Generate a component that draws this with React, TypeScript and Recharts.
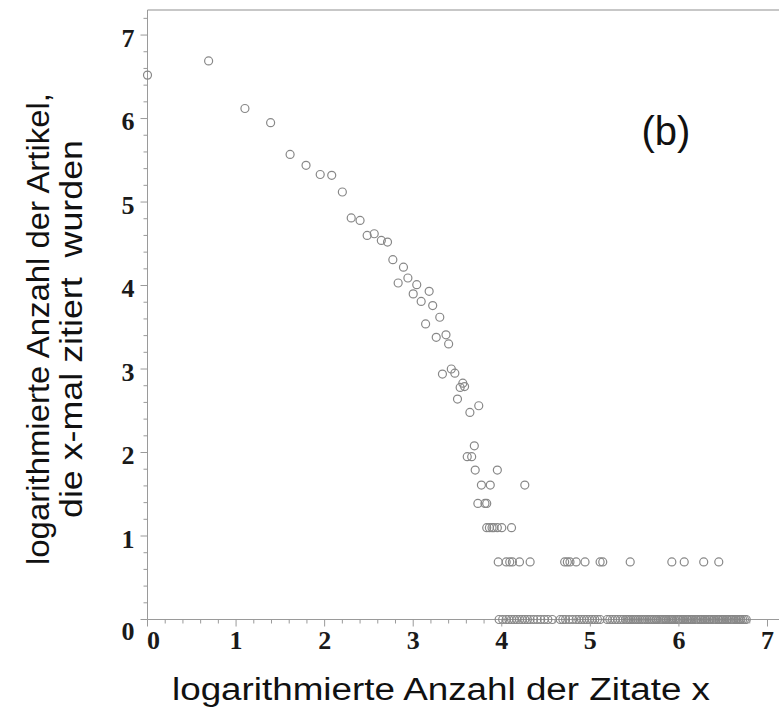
import React from 'react';
import { ScatterChart, Scatter, XAxis, YAxis, ReferenceLine, Customized } from 'recharts';

// Upper curve: log(x) vs log(number of articles)
const curveX = [0, 0.69, 1.1, 1.39, 1.61, 1.79, 1.95, 2.08, 2.2, 2.3, 2.4, 2.48, 2.56, 2.64, 2.71, 2.77, 2.83, 2.89, 2.94, 3.0, 3.04, 3.09, 3.14, 3.18, 3.22, 3.26, 3.3, 3.33, 3.37, 3.4, 3.43, 3.47, 3.5, 3.53, 3.56, 3.58, 3.61, 3.64, 3.66, 3.69, 3.74];
const curveY = [6.52, 6.69, 6.12, 5.95, 5.57, 5.44, 5.33, 5.32, 5.12, 4.81, 4.78, 4.6, 4.62, 4.54, 4.52, 4.31, 4.03, 4.22, 4.09, 3.9, 4.01, 3.81, 3.54, 3.93, 3.76, 3.38, 3.62, 2.94, 3.41, 3.3, 3.0, 2.95, 2.64, 2.78, 2.83, 2.79, 1.95, 2.48, 1.95, 2.08, 2.56];

// Discrete levels (few articles)
const level179X = [3.7, 3.95];
const level161X = [3.77, 3.87, 4.26];
const level139X = [3.73, 3.81, 3.83];
const level110X = [3.83, 3.86, 3.89, 3.91, 3.95, 4.0, 4.11];
const level069X = [3.96, 4.05, 4.09, 4.12, 4.2, 4.32, 4.71, 4.74, 4.77, 4.84, 4.94, 5.11, 5.14, 5.45, 5.92, 6.06, 6.28, 6.45];
const level000X = [
  3.97, 4.01, 4.05, 4.08, 4.11, 4.14, 4.17, 4.2, 4.23, 4.26, 4.29, 4.32, 4.36, 4.4, 4.44, 4.48, 4.52, 4.57,
  4.66, 4.69, 4.72, 4.76, 4.8,
  4.84, 4.87, 4.9, 4.93, 4.96, 4.99, 5.02, 5.05, 5.08, 5.11,
  5.19, 5.22, 5.25, 5.28, 5.31, 5.34, 5.37, 5.4, 5.42, 5.44, 5.46, 5.48, 5.5, 5.52, 5.54, 5.56, 5.58, 5.6, 5.62,
  5.64, 5.66, 5.68, 5.7, 5.72, 5.74, 5.75, 5.77, 5.79, 5.81, 5.83, 5.85, 5.86, 5.88, 5.9, 5.92, 5.93, 5.95, 5.97,
  5.99, 6.0, 6.02, 6.04, 6.05, 6.07, 6.09, 6.1, 6.12, 6.14, 6.15, 6.17, 6.19, 6.2, 6.22, 6.24, 6.25, 6.27, 6.29,
  6.3, 6.32, 6.34, 6.35, 6.37, 6.39, 6.4, 6.42, 6.44, 6.45, 6.47, 6.49, 6.5, 6.52, 6.54, 6.55, 6.57, 6.59, 6.6,
  6.62, 6.64, 6.65, 6.67, 6.69, 6.7, 6.72, 6.74, 6.76,
];

const xMajorTicks = [0, 1, 2, 3, 4, 5, 6, 7];
const yMajorTicks = [0, 1, 2, 3, 4, 5, 6, 7];

const yTitle1 = 'logarithmierte Anzahl der Artikel,';
const yTitle2 = 'die x-mal zitiert  wurden';
const xTitle = 'logarithmierte Anzahl der Zitate x';
const panelLabel = '(b)';

const levelPts = (xs: number[], y: number) => xs.map((x) => ({ x, y }));
const data = [
  ...curveX.map((x, i) => ({ x, y: curveY[i] })),
  ...levelPts(level179X, 1.79),
  ...levelPts(level161X, 1.61),
  ...levelPts(level139X, 1.39),
  ...levelPts(level110X, 1.1),
  ...levelPts(level069X, 0.69),
  ...levelPts(level000X, 0),
];

const minor = (max: number) => {
  const out: number[] = [];
  for (let i = 0; i * 0.2 <= max + 1e-9; i++) out.push(Math.round(i * 2) / 10);
  return out;
};
const xTicks = minor(7.0);
const yTicks = minor(7.2);

const isMajor = (v: number, majors: number[]) => majors.some((m) => Math.abs(m - v) < 1e-6);

const AX = '#9a9a9a';
const tickFont = { fontFamily: '"Liberation Serif", "DejaVu Serif", serif', fontSize: 26, fontWeight: 700 as const, fill: '#1a1a1a' };

const YTick = (props: any) => {
  const { x, y, payload } = props;
  const v = payload.value;
  const major = isMajor(v, yMajorTicks);
  return (
    <g>
      <line x1={x - (major ? 7 : 4)} x2={x} y1={y} y2={y} stroke={AX} strokeWidth={1} />
      {major && (
        <text x={x - 13} y={y + (v === 0 ? 12 : 3)} textAnchor="end" dominantBaseline="central" {...tickFont}>
          {Math.round(v)}
        </text>
      )}
    </g>
  );
};

const XTick = (props: any) => {
  const { x, y, payload } = props;
  const v = payload.value;
  const major = isMajor(v, xMajorTicks);
  return (
    <g>
      <line x1={x} x2={x} y1={y} y2={y + (major ? 7 : 4)} stroke={AX} strokeWidth={1} />
      {major && (
        <text x={x + (v === 0 ? 6 : 0)} y={y + 21} textAnchor="middle" dominantBaseline="central" {...tickFont}>
          {Math.round(v)}
        </text>
      )}
    </g>
  );
};

const Ring = (props: any) => {
  const { cx, cy } = props;
  return <circle cx={cx} cy={cy} r={4} fill="none" stroke="#888" strokeWidth={1.2} />;
};

const titleFont = { fontFamily: '"Liberation Sans", Arial, sans-serif', fontSize: 31, fill: '#111', lengthAdjust: 'spacingAndGlyphs' as const, style: { whiteSpace: 'pre' as const } };

const Titles = () => (
  <g>
    <text x={441} y={700} textAnchor="middle" textLength={538} {...titleFont}>{xTitle}</text>
    <text transform="translate(49,329) rotate(-90)" textAnchor="middle" textLength={472} {...titleFont}>{yTitle1}</text>
    <text transform="translate(82,329) rotate(-90)" textAnchor="middle" textLength={378} {...titleFont}>{yTitle2}</text>
    <text x={666} y={145} textAnchor="middle" fontFamily='"Liberation Sans", Arial, sans-serif' fontSize={40} fill="#111">{panelLabel}</text>
  </g>
);

export default function App() {
  return (
    <div style={{ position: 'absolute', left: 0, top: 0, background: '#fff' }}>
      <ScatterChart width={779} height={711} margin={{ top: 10, right: 0, bottom: 31.5, left: 87.5 }}>
        <XAxis
          type="number"
          dataKey="x"
          domain={[0, 7.13]}
          ticks={xTicks}
          interval={0}
          height={60}
          tickSize={0}
          tickMargin={0}
          tickLine={false}
          axisLine={{ stroke: AX, strokeWidth: 1 }}
          tick={<XTick />}
        />
        <YAxis
          type="number"
          dataKey="y"
          domain={[0, 7.3]}
          ticks={yTicks}
          interval={0}
          width={60}
          tickSize={0}
          tickMargin={0}
          tickLine={false}
          axisLine={{ stroke: AX, strokeWidth: 1 }}
          tick={<YTick />}
        />
        <ReferenceLine y={7.3} stroke="#b4b4b4" strokeWidth={1.5} />
        <Scatter data={data} shape={<Ring />} isAnimationActive={false} />
        <Customized component={Titles} />
      </ScatterChart>
    </div>
  );
}
